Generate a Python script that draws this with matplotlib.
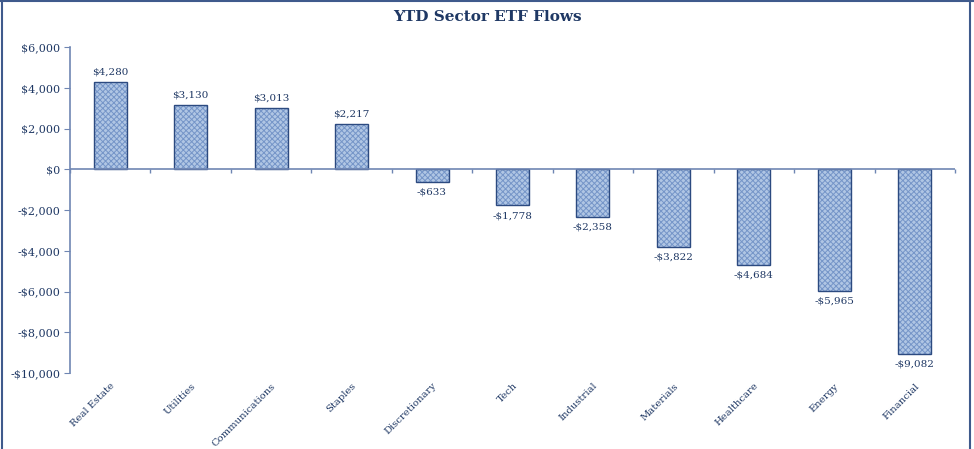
import numpy as np
import matplotlib.pyplot as plt
from matplotlib.lines import Line2D

sectors = ["Real Estate", "Utilities", "Communications", "Staples", "Discretionary",
           "Tech", "Industrial", "Materials", "Healthcare", "Energy", "Financial"]
flows = [4280, 3130, 3013, 2217, -633, -1778, -2358, -3822, -4684, -5965, -9082]
yticks = [6000, 4000, 2000, 0, -2000, -4000, -6000, -8000, -10000]

navy = "#1f3864"
axcol = "#6f86b3"
plt.rcParams['font.family'] = ['DejaVu Serif']
plt.rcParams['hatch.linewidth'] = 0.7

fig = plt.figure(figsize=(9.74, 4.49), dpi=100)
ax = fig.add_axes([70 / 974, 76 / 449, 885 / 974, 326 / 449])

x = np.arange(len(sectors))
# hatched fill, then outline on top
ax.bar(x, flows, width=0.41, color="#b0c6e4", edgecolor="#7595c8", hatch="xxxxxx", linewidth=0)
ax.bar(x, flows, width=0.41, fill=False, edgecolor="#2c4a80", linewidth=1.0)

for xi, v in zip(x, flows):
    if v >= 0:
        txt = "$" + format(v, ",")
        ax.annotate(txt, (xi, v), xytext=(0, 4), textcoords="offset points",
                    ha="center", va="bottom", fontsize=7.5, color=navy)
    else:
        txt = "-$" + format(-v, ",")
        ax.annotate(txt, (xi, v), xytext=(0, -4), textcoords="offset points",
                    ha="center", va="top", fontsize=7.5, color=navy)

ax.set_xlim(-0.5, len(sectors) - 0.5)
ax.set_ylim(-10000, 6000)
ax.set_yticks(yticks)
ax.set_yticklabels([("$" if v >= 0 else "-$") + format(abs(v), ",") for v in yticks])
ax.tick_params(axis="y", labelcolor=navy, color=axcol, labelsize=8, length=4,
               direction="out", pad=3)

ax.set_xticks(x)
ax.set_xticklabels(sectors, rotation=45, ha="right", rotation_mode="anchor",
                   fontsize=7.2, color=navy)
ax.tick_params(axis="x", length=0, pad=6)

for s in ["top", "right", "bottom"]:
    ax.spines[s].set_visible(False)
ax.spines["left"].set_color(axcol)
ax.spines["left"].set_linewidth(1.2)

# zero line with category boundary ticks
ax.axhline(0, color=axcol, lw=1.2, zorder=1)
zero = ax.secondary_xaxis(10000 / 16000)
zero.set_xticks(np.arange(len(sectors) + 1) - 0.5)
zero.set_xticklabels([])
zero.tick_params(axis="x", length=3, direction="in", color=axcol, width=1)
for s in zero.spines:
    zero.spines[s].set_visible(False)

fig.text(487 / 974, 1 - 17 / 449, "YTD Sector ETF Flows", ha="center", va="center",
         fontsize=11, fontweight="bold", color=navy)

# chart frame (left, top, right)
fc = "#3f5a8c"
fig.add_artist(Line2D([2 / 974, 2 / 974], [0, 1], color=fc, lw=1.5))
fig.add_artist(Line2D([0, 1], [448 / 449, 448 / 449], color=fc, lw=1.5))
fig.add_artist(Line2D([970 / 974, 970 / 974], [0, 1], color=fc, lw=1.5))

fig.savefig("out.png", dpi=100)
